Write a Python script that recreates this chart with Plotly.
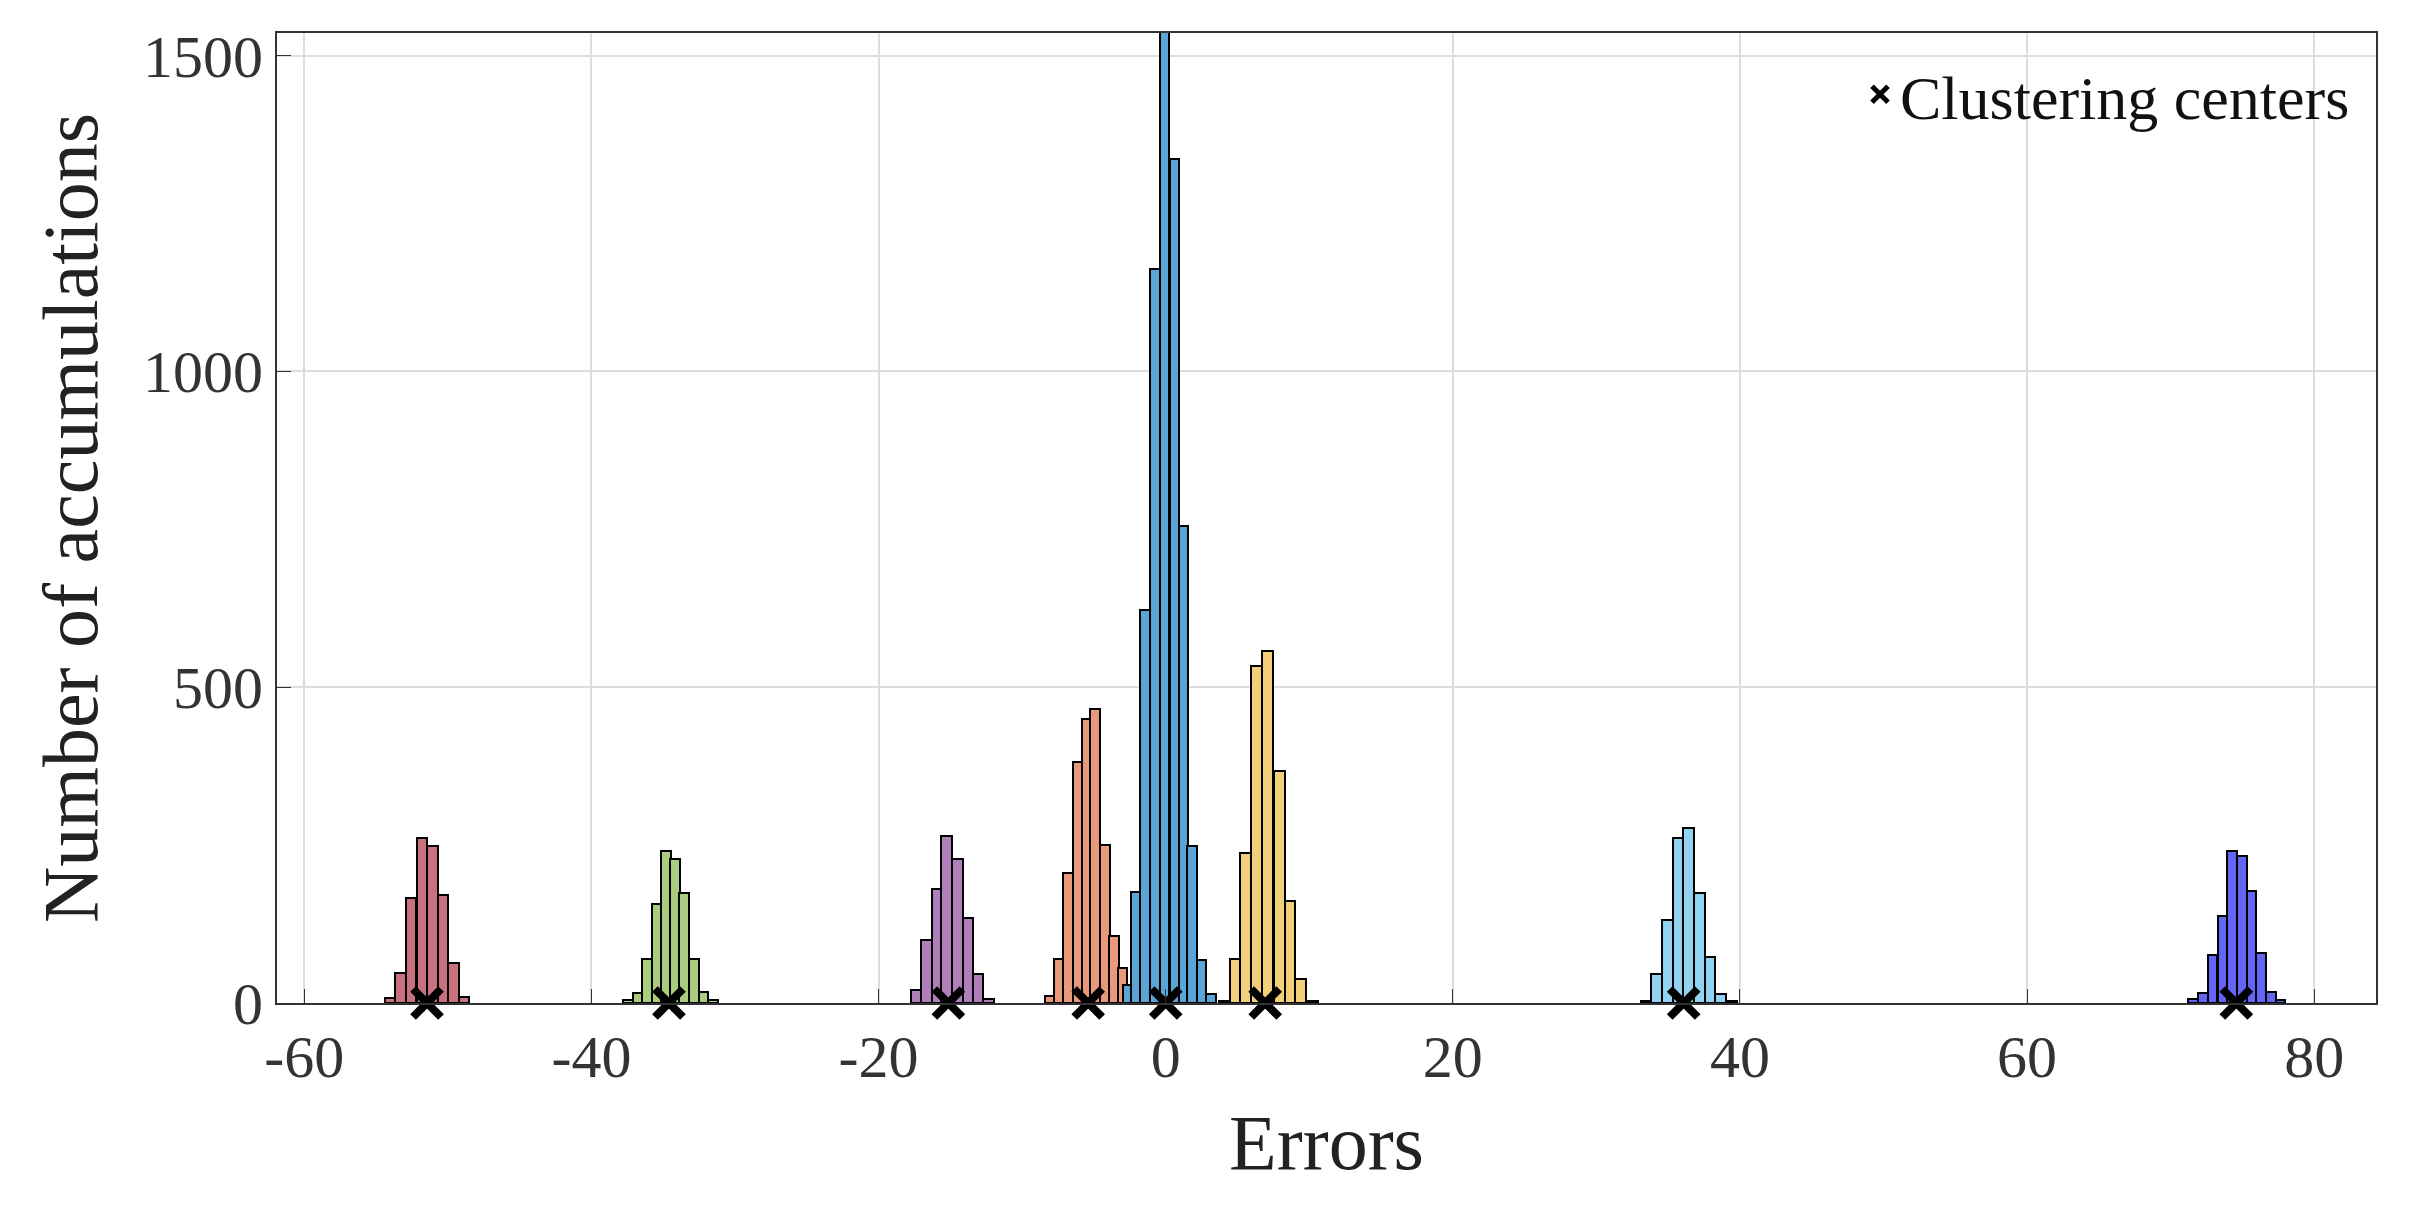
import plotly.graph_objects as go

# bin centers and counts per cluster
red_x = [-54.03, -53.30, -52.57, -51.81, -51.08, -50.35, -49.62, -48.89]
red_y = [8, 48, 167, 262, 249, 171, 64, 9]
green_x = [-37.44, -36.78, -36.12, -35.44, -34.80, -34.18, -33.54, -32.86, -32.19, -31.53]
green_y = [4, 16, 70, 156, 240, 228, 174, 70, 18, 4]
purple_x = [-17.40, -16.67, -15.95, -15.26, -14.50, -13.76, -13.08, -12.35]
purple_y = [21, 100, 180, 265, 228, 134, 46, 6]
orange_x = [-8.10, -7.48, -6.81, -6.14, -5.53, -4.92, -4.22, -3.61, -3.02]
orange_y = [11, 70, 206, 381, 450, 466, 250, 106, 55]
blue_x = [-2.63, -2.06, -1.45, -0.76, -0.07, 0.61, 1.24, 1.84, 2.50, 3.16]
blue_y = [29, 175, 623, 1163, 1600, 1337, 755, 249, 68, 15]
yellow_x = [4.09, 4.83, 5.58, 6.34, 7.09, 7.90, 8.66, 9.39, 10.2]
yellow_y = [3, 70, 237, 534, 557, 368, 161, 38, 3]
lblue_x = [33.45, 34.19, 34.95, 35.69, 36.43, 37.16, 37.91, 38.65, 39.44]
lblue_y = [3, 46, 131, 262, 277, 174, 73, 15, 3]
dblue_x = [71.57, 72.24, 72.92, 73.60, 74.29, 74.97, 75.64, 76.30, 76.97, 77.65]
dblue_y = [6, 16, 76, 137, 240, 232, 177, 79, 18, 4]

centers_x = [-51.45, -34.6, -15.14, -5.4, 0.0, 6.93, 36.08, 74.57]
centers_y = [0, 0, 0, 0, 0, 0, 0, 0]

x_ticks = [-60, -40, -20, 0, 20, 40, 60, 80]
y_ticks = [0, 500, 1000, 1500]

clusters = [
    (red_x, red_y, "#C8707E", 0.73),
    (green_x, green_y, "#A9CC7E", 0.66),
    (purple_x, purple_y, "#B07FBB", 0.72),
    (orange_x, orange_y, "#E8997A", 0.65),
    (blue_x, blue_y, "#5BA4D6", 0.66),
    (yellow_x, yellow_y, "#F2D07A", 0.76),
    (lblue_x, lblue_y, "#91D3F0", 0.75),
    (dblue_x, dblue_y, "#6366F5", 0.67),
]

fig = go.Figure()
for xs, ys, col, w in clusters:
    fig.add_trace(go.Bar(x=xs, y=ys, width=w, marker=dict(color=col, line=dict(color="black", width=2)),
                         showlegend=False))

fig.add_trace(go.Scatter(x=centers_x, y=centers_y, mode="markers", name="Clustering centers",
                         marker=dict(symbol="x-thin", size=28, color="black", line=dict(width=8, color="black")),
                         cliponaxis=False))

axis_style = dict(showline=True, linecolor="#333", linewidth=2, mirror=True, ticks="inside", ticklen=14,
                  tickcolor="#333", showgrid=True, gridcolor="#DDDDDD", gridwidth=1.5, zeroline=False,
                  tickfont=dict(size=60, color="#333"))

fig.update_layout(
    width=2411, height=1211,
    margin=dict(l=269, r=43, t=25, b=216),
    plot_bgcolor="white", paper_bgcolor="white",
    font=dict(family="Liberation Serif", color="#222"),
    barmode="overlay", bargap=0,
    xaxis=dict(range=[-61.9, 84.3], tickvals=x_ticks, ticktext=[str(v) for v in x_ticks],
               title=dict(text="Errors", font=dict(size=78), standoff=25), **axis_style),
    yaxis=dict(range=[0, 1536], tickvals=y_ticks, ticktext=[str(v) for v in y_ticks],
               title=dict(text="Number of accumulations", font=dict(size=78), standoff=20), **axis_style),
    legend=dict(x=0.99, y=0.985, xanchor="right", yanchor="top", font=dict(size=62, color="#111"),
                bgcolor="rgba(255,255,255,0)"),
)

fig.write_html("out.html")
